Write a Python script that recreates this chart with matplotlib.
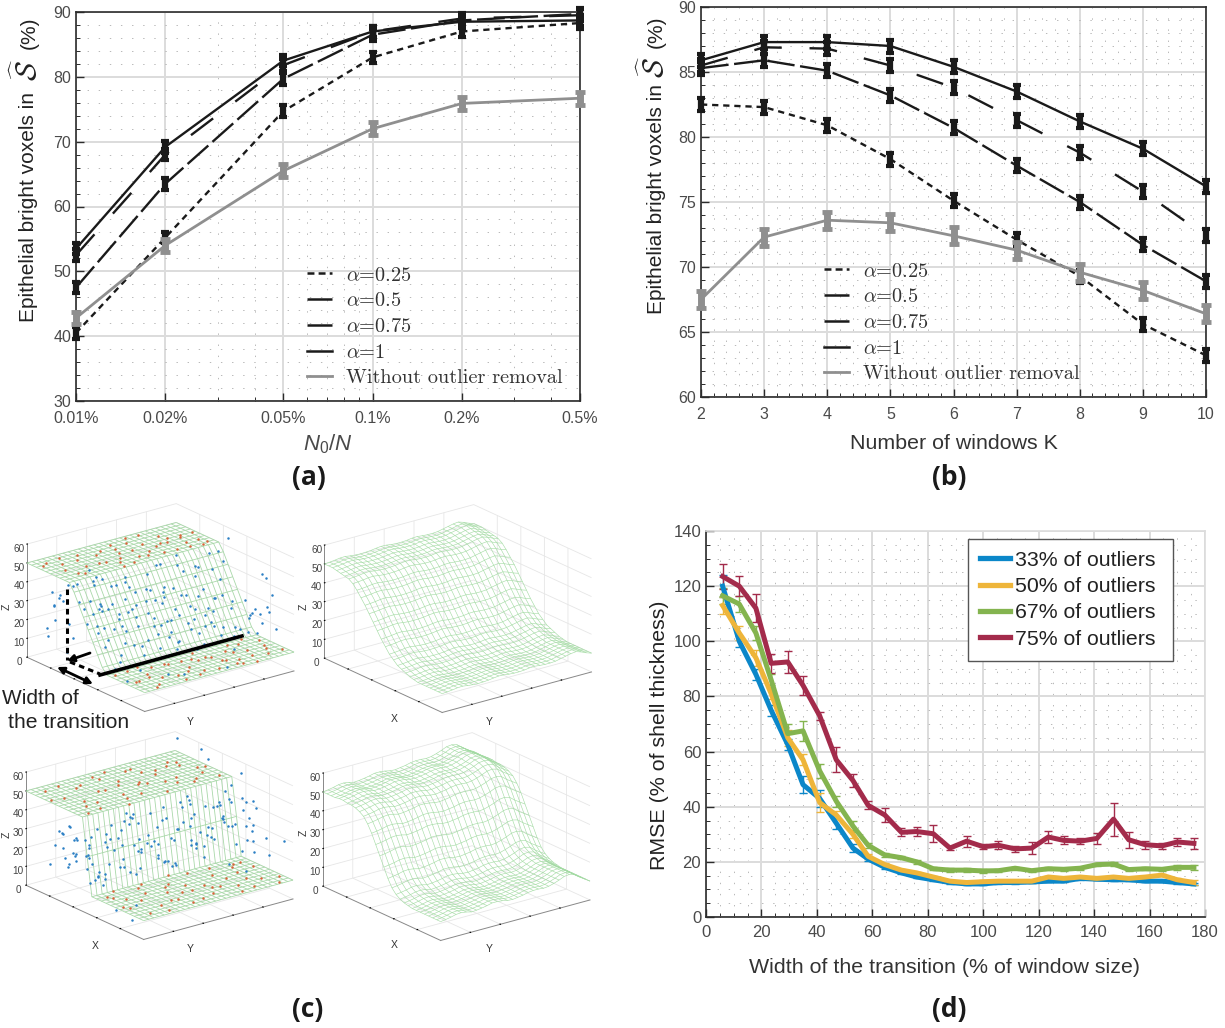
import matplotlib
matplotlib.use("Agg")
import matplotlib.pyplot as plt
import numpy as np
from matplotlib.ticker import FixedLocator, NullFormatter, MultipleLocator

plt.rcParams['font.family'] = ['Liberation Sans', 'DejaVu Sans']
plt.rcParams['lines.scale_dashes'] = False
plt.rcParams['mathtext.fontset'] = 'custom'
plt.rcParams['mathtext.it'] = 'Liberation Sans:italic'
plt.rcParams['mathtext.rm'] = 'Liberation Sans'

W, H = 1225, 1028

# (a)
ratio = [0.01, 0.02, 0.05, 0.1, 0.2, 0.5]
ratio_labels = ['0.01%', '0.02%', '0.05%', '0.1%', '0.2%', '0.5%']
a_025 = [40.5, 55.2, 74.7, 83.0, 87.0, 88.3]
a_050 = [47.5, 63.5, 79.7, 86.5, 88.7, 89.7]
a_075 = [52.5, 68.0, 81.8, 87.0, 89.0, 89.5]
a_100 = [53.5, 69.2, 82.5, 87.0, 88.5, 88.7]
a_none = [42.8, 54.0, 65.5, 72.0, 75.9, 76.7]

# (b)
windows = [2, 3, 4, 5, 6, 7, 8, 9, 10]
b_025 = [82.5, 82.3, 80.9, 78.3, 75.1, 72.1, 69.3, 65.6, 63.2]
b_050 = [85.3, 85.9, 85.1, 83.2, 80.7, 77.8, 75.0, 71.7, 68.9]
b_075 = [85.5, 86.9, 86.8, 85.5, 83.8, 81.3, 78.8, 75.8, 72.4]
b_100 = [85.9, 87.3, 87.3, 87.0, 85.4, 83.5, 81.2, 79.1, 76.2]
b_none = [67.5, 72.3, 73.6, 73.4, 72.4, 71.3, 69.6, 68.2, 66.4]

alpha_labels = [r'$\alpha$=0.25', r'$\alpha$=0.5', r'$\alpha$=0.75', r'$\alpha$=1', 'Without outlier removal']

# (d)
width = [6, 12, 18, 23.5, 29.5, 35, 41, 47, 53, 58.5, 64.5, 70.5, 76, 82, 88, 94, 100, 105.5, 111.5, 117.5,
         123.5, 129, 135, 141, 147, 152.5, 158.5, 164.5, 170, 176]
d_33 = [120, 100, 88, 75, 62.5, 48, 43, 34, 25, 21, 18, 16, 14.5, 13.5, 12.5, 12, 12, 12.5, 12.5, 12.7,
        13, 13, 14, 13.7, 13.5, 13.5, 13, 13, 12.5, 12]
d_50 = [113, 103, 94, 81, 65, 57, 41.5, 37, 30, 22, 19, 17, 16, 14.5, 13, 12.5, 12.8, 13, 13, 13,
        14.5, 14, 14.5, 14, 14.5, 14, 14.5, 15.2, 13.5, 12.5]
d_67 = [116.5, 113.5, 103, 86, 66.5, 67.5, 53, 42, 33, 26, 22.5, 21.5, 20, 17.5, 17, 17, 16.7, 16.8, 17.7, 16.8,
        17.5, 17.3, 17.7, 19, 19.2, 17.2, 17.5, 17.3, 18, 18]
d_75 = [123.5, 120, 112, 92, 92.5, 84, 73, 57, 49.5, 40.5, 37, 30.7, 31, 30.2, 25, 27.5, 25.5, 26, 24.7, 25,
        29, 27.8, 27.5, 28.5, 35.5, 28, 26.2, 25.8, 27.2, 26.7]
e_33 = [4, 2, 2, 2, 2, 3, 3, 2, 1.5, 0.8, 0.6, 0.5, 0.4, 0.4, 0.4, 0.4, 0.4, 0.4, 0.4, 0.4,
        0.4, 0.4, 0.4, 0.4, 0.4, 0.4, 0.4, 0.4, 0.4, 0.5]
e_50 = [3, 2.5, 3, 2, 3, 2, 3.5, 1.5, 1.5, 0.8, 0.6, 0.5, 0.5, 0.5, 0.5, 0.5, 0.5, 0.5, 0.5, 0.5,
        0.5, 0.5, 0.5, 0.5, 0.5, 0.5, 0.5, 0.5, 0.5, 0.8]
e_67 = [3, 3, 2.5, 2, 3.5, 3.5, 2.5, 2, 2, 1, 0.8, 0.6, 0.6, 0.6, 0.6, 0.6, 0.6, 0.6, 0.6, 0.6,
        0.6, 0.6, 0.6, 0.6, 0.8, 0.6, 0.6, 0.6, 0.8, 1]
e_75 = [4.5, 3.7, 5, 3.5, 4, 3.5, 1.5, 4.5, 2.5, 1.5, 2.5, 1.5, 1.5, 3, 0.8, 2, 1, 1.5, 1, 2.2,
        2.3, 1.5, 1, 2, 6, 3, 1.5, 1, 1.5, 2]
outlier_labels = ['33% of outliers ', '50% of outliers ', '67% of outliers ', '75% of outliers ']

# (c) surfaces, z across the transition and ripple along it
ramp_profile = [50, 50, 50, 50, 50, 50, 50, 50, 50, 50, 46, 40.5, 35, 29.5, 24, 18.5, 13, 10, 10, 10, 10, 10, 10, 10, 10, 10]
step_profile = [50, 50, 50, 50, 50, 50, 50, 50, 50, 50, 50, 50, 50, 30, 10, 10, 10, 10, 10, 10, 10, 10, 10, 10, 10, 10]
smooth_wide = [50, 50, 50, 49.5, 49, 48.5, 48, 46.5, 44, 41, 38, 34.5, 31, 27.5, 24, 21, 18, 16, 14, 13, 12, 11, 10.5, 10, 10, 10, 10, 10, 10, 10]
smooth_narrow = [50, 50, 50, 50, 50.5, 50.5, 50, 50, 49.5, 48.5, 47, 44, 40, 35, 30, 25, 20, 16, 13.5, 12, 11, 10.5, 10, 10, 10, 10, 10, 10, 10, 10]
ripple_wide = [0, 0.2, 0.5, 0.9, 1, 0.6, 0.3, 0.2, 0.3, 0.5, 0.9, 1.2, 1.1, 0.7, 0.5, 0.5, 0.7, 1.1, 1.2, 0.9, 0.7, 0.7, 0.9, 1.5, 2.1, 2.7, 3, 2.1, 0.9, 0]
ripple_narrow = [0, 0.4, 0.9, 1.6, 1.8, 1.4, 0.7, 0.9, 1.3, 1.8, 2.5, 2.5, 2.2, 1.6, 1.4, 1.8, 2.2, 2.9, 3.2, 3.2, 2.9, 3.2, 4, 5, 6.2, 6.5, 5.8, 3.6, 1.8, 0]

# (c) points
tl_blue_x = [38, 42, 47, 52, 56, 61, 44, 49, 55, 59, 35, 40, 46, 51, 57, 63, 37, 43, 48, 54, 60, 66, 41, 45, 50, 53, 58, 62, 36, 39,
             44, 47, 52, 56, 64, 68, 42, 49, 55, 61, 33, 38, 46, 50, 57, 65, 40, 45, 51, 59, 12, 18, 25, 8, 30, 22, 15, 28, 20, 10,
             72, 78, 85, 90, 95, 75, 82, 88, 70, 92, 5, 14, 24, 33, 70, 80, 88, 96, 60, 48,
             36, 38, 40, 42, 44, 46, 48, 50, 52, 54, 56, 58, 60, 62, 64, 37, 39, 41, 43, 45, 47, 49, 51, 53, 55, 57, 59, 61, 63, 65,
             36, 40, 44, 48, 52, 56, 60, 64, 38, 42, 46, 50, 54, 58, 62, 66, 35, 41, 47, 53,
             12, 16, 20, 24, 14, 18, 22, 10, 15, 25, 72, 76, 80, 84, 88, 74, 78, 82, 86, 90]
tl_blue_y = [12, 85, 33, 61, 8, 47, 72, 20, 93, 55, 38, 66, 4, 79, 27, 90, 51, 16, 43, 70, 31, 96, 58, 9, 24, 83, 64, 14, 76, 35,
             48, 88, 6, 41, 68, 22, 98, 29, 53, 75, 18, 62, 37, 91, 45, 11, 81, 56, 26, 69, 15, 40, 60, 80, 28, 92, 5, 72, 50, 34,
             10, 44, 84, 24, 64, 95, 30, 52, 75, 88, 45, 20, 8, 96, 2, 99, 12, 58, 3, 97,
             5, 15, 25, 35, 45, 55, 65, 75, 85, 95, 10, 20, 30, 40, 50, 60, 70, 80, 90, 3, 13, 23, 33, 43, 53, 63, 73, 83, 93, 8,
             18, 28, 38, 48, 58, 68, 78, 88, 98, 2, 12, 22, 32, 42, 52, 62, 72, 82, 92, 6,
             4, 9, 3, 12, 7, 14, 5, 10, 2, 8, 92, 86, 97, 90, 95, 99, 88, 93, 85, 96]
tl_blue_z = [38, 30, 32, 24, 20, 18, 30, 25, 22, 14, 42, 34, 30, 20, 17, 15, 44, 36, 28, 26, 12, 12, 28, 34, 26, 22, 18, 16, 40, 46,
             38, 26, 30, 24, 11, 8, 42, 32, 18, 20, 46, 35, 33, 28, 24, 14, 37, 33, 23, 15, 30, 22, 24, 34, 18, 14, 38, 12, 26, 42,
             6, 4, 30, 22, 18, 14, 8, 40, 16, 34, 20, 10, 8, 44, 48, 26, 32, 10, 58, 56,
             48, 46, 44, 42, 39, 36, 33, 31, 28, 25, 23, 20, 17, 14, 12, 47, 45, 43, 40, 38, 35, 32, 29, 27, 24, 21, 18, 16, 13, 11,
             49, 44, 39, 34, 28, 22, 17, 11, 46, 41, 36, 30, 25, 20, 15, 10, 49, 42, 35, 27,
             18, 34, 25, 42, 30, 20, 38, 28, 15, 44, 22, 34, 44, 28, 38, 18, 26, 48, 32, 20]
tl_red_x = [4, 9, 14, 18, 23, 27, 31, 6, 12, 17, 21, 26, 30, 34, 8, 15, 20, 24, 29, 33, 3, 11, 16, 22, 28, 32,
            5, 10, 13, 19, 25, 31, 7, 16, 23, 28, 2, 12, 18, 26, 33, 9, 20, 30,
            70, 74, 78, 83, 87, 92, 97, 68, 72, 76, 81, 85, 90, 95, 71, 75, 79, 84, 88, 93, 98, 73, 80, 86, 91, 96,
            69, 77, 82, 89, 94, 99, 70, 75, 83, 87, 92, 97, 73, 79, 85, 90, 95, 68]
tl_red_y = [18, 42, 66, 88, 30, 54, 76, 8, 24, 48, 70, 94, 15, 38, 60, 82, 10, 34, 58, 92, 72, 50, 98, 22, 40, 84,
            52, 80, 36, 74, 62, 96, 28, 90, 44, 12, 64, 14, 56, 86, 46, 4, 78, 68,
            12, 36, 58, 82, 22, 46, 68, 90, 26, 50, 74, 6, 30, 54, 78, 96, 18, 42, 64, 88, 10, 34, 60, 92, 70, 40,
            56, 72, 94, 38, 14, 76, 4, 44, 16, 62, 98, 30, 84, 52, 8, 80, 66, 20]
tl_red_z = [50] * 44 + [10] * 44

# (c) points
bl_blue_x = [48, 50, 49, 51, 47, 52, 50, 48, 49, 51, 46, 53, 50, 47, 49, 52, 48, 50, 51, 46, 49, 53, 47, 50, 52, 48, 49, 51, 50, 47,
             53, 48, 50, 46, 52, 49, 51, 47, 50, 48, 44, 56, 42, 58, 40, 60, 45, 55, 43, 57, 20, 24, 28, 16, 32, 12, 22, 30, 18, 26,
             72, 78, 85, 90, 95, 75, 82, 88, 70, 92, 5, 14, 24, 33, 70, 80, 88, 96, 60, 8,
             50, 49, 51, 47, 53, 48, 52, 46, 54, 50, 49, 51, 47, 53, 48, 52, 46, 54, 50, 49, 51, 47, 53, 48, 52, 46, 54, 50, 49, 51,
             47, 53, 48, 52, 46, 54, 50, 49, 51, 47, 53, 48, 52, 46, 54, 50, 49, 51, 47, 53,
             26, 30, 34, 38, 28, 32, 36, 24, 40, 33, 62, 66, 70, 74, 64, 68, 72, 60, 76, 65]
bl_blue_y = [6, 16, 26, 36, 46, 56, 66, 76, 86, 96, 10, 20, 30, 40, 50, 60, 70, 80, 90, 4, 14, 24, 34, 44, 54, 64, 74, 84, 94, 12,
             22, 32, 42, 52, 62, 72, 82, 92, 2, 28, 38, 48, 58, 68, 78, 88, 18, 8, 98, 3, 4, 7, 10, 12, 3, 15, 5, 8, 2, 13,
             95, 90, 85, 92, 98, 88, 96, 80, 99, 75, 40, 30, 98, 96, 5, 8, 4, 60, 97, 95,
             3, 9, 13, 19, 23, 29, 33, 39, 43, 49, 53, 59, 63, 69, 73, 79, 83, 89, 93, 99, 8, 17, 27, 37, 47, 57, 67, 77, 87, 97,
             5, 11, 21, 31, 41, 51, 61, 71, 81, 91, 15, 25, 35, 45, 55, 65, 75, 85, 95, 1,
             4, 9, 3, 12, 7, 14, 5, 10, 2, 8, 92, 86, 97, 90, 95, 99, 88, 93, 85, 96]
bl_blue_z = [38, 22, 30, 16, 42, 28, 34, 20, 26, 40, 14, 36, 44, 24, 18, 32, 46, 12, 38, 28, 34, 20, 42, 26, 16, 30, 36, 22, 44, 18,
             40, 14, 32, 24, 46, 20, 28, 38, 30, 42, 26, 18, 34, 22, 40, 30, 36, 14, 28, 20, 26, 20, 30, 22, 18, 28, 34, 24, 16, 30,
             24, 32, 38, 22, 30, 34, 28, 44, 40, 18, 4, 6, 58, 56, 6, 3, 14, 26, 56, 60,
             28, 42, 18, 34, 24, 46, 14, 38, 30, 20, 44, 26, 12, 36, 22, 40, 16, 32, 28, 46, 18, 30, 42, 24, 36, 14, 44, 26, 20, 38,
             34, 16, 28, 46, 22, 40, 12, 30, 24, 36, 44, 18, 32, 26, 14, 42, 20, 38, 28, 16,
             34, 22, 40, 28, 18, 30, 26, 36, 24, 32, 20, 32, 44, 26, 38, 16, 48, 30, 22, 42]
bl_red_x = [4, 9, 14, 18, 23, 27, 31, 36, 40, 44, 6, 12, 17, 21, 26, 30, 34, 38, 42, 8, 15, 20, 24, 29, 33, 37,
            3, 10, 16, 22, 28, 35, 41, 45, 7, 13, 19, 25, 32, 39, 5, 11, 43, 47,
            56, 60, 65, 70, 74, 78, 83, 87, 92, 97, 58, 62, 68, 72, 76, 81, 85, 90, 95, 64, 71, 75, 79, 84, 88, 93,
            55, 59, 63, 67, 73, 77, 82, 86, 91, 96, 57, 61, 66, 69, 80, 89, 94, 98]
bl_red_y = [18, 42, 66, 88, 30, 54, 76, 12, 36, 60, 8, 24, 48, 70, 94, 15, 38, 84, 96, 60, 82, 10, 34, 58, 92, 72,
            50, 28, 74, 44, 98, 20, 80, 6, 64, 90, 2, 56, 68, 46, 40, 86, 16, 32,
            14, 28, 44, 12, 36, 58, 82, 22, 46, 68, 62, 90, 26, 50, 74, 6, 30, 54, 78, 8, 96, 18, 42, 64, 88, 10,
            52, 76, 94, 40, 84, 4, 60, 34, 98, 20, 32, 6, 86, 70, 48, 72, 38, 92]
bl_red_z = [50] * 44 + [10] * 44

# z ticks of panel c
z_ticks = [0, 10, 20, 30, 40, 50, 60]

dark = '#2b2b2b'
label_gray = '#4a4a4a'
grid_major = '#dcdcdc'
grid_minor = '#adadad'

fig = plt.figure(figsize=(W / 100, H / 100), dpi=100, facecolor='white')


def axes_px(left, top, right, bottom, **kw):
    return fig.add_axes([left / W, 1 - bottom / H, (right - left) / W, (bottom - top) / H], **kw)


def style_lines(ax):
    ax.grid(True, which='major', color=grid_major, linewidth=1.4, zorder=0)
    ax.grid(True, which='minor', color=grid_minor, linewidth=0.6, linestyle=(0, (1, 7)), zorder=0)
    ax.tick_params(which='major', direction='in', length=6, width=1, color=dark, labelcolor=label_gray, labelsize=11.5)
    ax.tick_params(which='minor', direction='in', length=3, width=0.7, color=dark)
    ax.set_axisbelow(True)
    for sp in ax.spines.values():
        sp.set_color(dark)
        sp.set_linewidth(1.2)


def plot_alpha(ax, x, series, err, gray_err):
    styles = [(0, (4.5, 3.5)), (0, (20, 4)), (0, (20, 20)), '-']
    for y, ls in zip(series[:4], styles):
        ax.errorbar(x, y, yerr=err, color='#1a1a1a', linewidth=1.7, linestyle=ls, elinewidth=4.5,
                    capsize=3, capthick=3, clip_on=False, zorder=3)
    ax.errorbar(x, series[4], yerr=gray_err, color='#8f8f8f', linewidth=2.0, elinewidth=5,
                capsize=3.3, capthick=3.5, clip_on=False, zorder=4)


def alpha_legend(ax, anchor):
    handles = [plt.Line2D([], [], color='#1a1a1a', lw=1.8, ls=ls) for ls in
               [(0, (5, 3)), (0, (20, 4)), (0, (20, 20)), '-']]
    handles.append(plt.Line2D([], [], color='#8f8f8f', lw=2.0))
    leg = ax.legend(handles, alpha_labels, loc='lower left', bbox_to_anchor=anchor, frameon=False,
                    prop={'family': 'cmr10', 'size': 14.6}, handlelength=1.25, handletextpad=0.7,
                    labelspacing=0.37, borderpad=0, borderaxespad=0, facecolor='none')
    for t in leg.get_texts():
        t.set_math_fontfamily('cm')
        t.set_color('#333333')


# panel a
ax = axes_px(76, 12, 580, 401)
ax.set_xscale('log')
plot_alpha(ax, ratio, [a_025, a_050, a_075, a_100, a_none], 0.9, 1.0)
ax.set_xlim(0.01, 0.5)
ax.set_ylim(30, 90)
ax.set_xticks(ratio)
ax.set_xticklabels(ratio_labels)
ax.xaxis.set_minor_locator(FixedLocator([0.03, 0.04, 0.06, 0.07, 0.08, 0.09, 0.3, 0.4]))
ax.xaxis.set_minor_formatter(NullFormatter())
ax.yaxis.set_minor_locator(MultipleLocator(2))
style_lines(ax)
ax.tick_params(axis='x', pad=7)
ax.set_xlabel(r'$\mathit{N_0/N}$', fontsize=16, color=label_gray, labelpad=5)
alpha_legend(ax, (0.458, 0.035))

# panel b
ax = axes_px(701, 7, 1206, 397)
plot_alpha(ax, windows, [b_025, b_050, b_075, b_100, b_none], 0.5, 0.65)
ax.set_xlim(2, 10)
ax.set_ylim(60, 90)
ax.set_xticks(windows)
ax.xaxis.set_minor_locator(MultipleLocator(0.2))
ax.yaxis.set_minor_locator(MultipleLocator(1))
ax.xaxis.set_minor_formatter(NullFormatter())
style_lines(ax)
ax.tick_params(axis='x', pad=7)
ax.set_xlabel('Number of windows K', fontsize=15.4, color='#333333', labelpad=9)
alpha_legend(ax, (0.243, 0.035))

# panel d
ax = axes_px(706, 531, 1205, 917)
colors = ['#0b87c9', '#eeb53a', '#84b44f', '#a32b4b']
for y, e, c in zip([d_33, d_50, d_67, d_75], [e_33, e_50, e_67, e_75], colors):
    ax.errorbar(width, y, yerr=e, color=c, linewidth=3.6, elinewidth=1, capsize=3, capthick=1, zorder=3)
ax.set_xlim(0, 180)
ax.set_ylim(0, 140)
ax.set_xticks(np.arange(0, 181, 20))
ax.set_yticks(np.arange(0, 141, 20))
ax.xaxis.set_minor_locator(MultipleLocator(5))
ax.yaxis.set_minor_locator(MultipleLocator(5))
ax.xaxis.set_minor_formatter(NullFormatter())
style_lines(ax)
ax.spines['top'].set_color('#dcdcdc')
ax.spines['right'].set_color('#dcdcdc')
ax.tick_params(axis='both', labelsize=12)
ax.tick_params(axis='x', pad=6)
ax.set_xlabel('Width of the transition (% of window size)', fontsize=15.4, color='#333333', labelpad=13, x=0.478)
ax.set_ylabel('RMSE (% of shell thickness)', fontsize=15.4, color='#222222', labelpad=3, y=0.472)
handles = [plt.Line2D([], [], color=c, lw=3.8) for c in colors]
leg = ax.legend(handles, outlier_labels, loc='upper right', bbox_to_anchor=(0.9359, 0.9795), fancybox=False,
                framealpha=1, edgecolor='#555555', fontsize=15.3, handlelength=1.4, handletextpad=0.25,
                labelspacing=0.35, borderpad=0.55, borderaxespad=0)
leg.get_frame().set_linewidth(1.0)
for t in leg.get_texts():
    t.set_color('#222222')


# panel c
def surface_panel(cx, cy, profile, ripple, mesh_color, mesh_lw, blue=None, red=None):
    size = 330
    ax3 = fig.add_axes([(cx - size / 2) / W, 1 - (cy + size / 2) / H, size / W, size / H],
                       projection='3d', computed_zorder=False)
    ax3.patch.set_alpha(0)
    ax3.set_proj_type('ortho')
    ax3.view_init(elev=20.7, azim=-37.5)
    ax3.set_box_aspect((184, 179, 115), zoom=0.87)
    profile = np.array(profile, dtype=float)
    ripple = np.array(ripple, dtype=float)
    xs = np.linspace(0, 100, len(profile))
    ys = np.linspace(0, 100, len(ripple))
    X, Y = np.meshgrid(xs, ys, indexing='ij')
    Z = np.add.outer(profile, ripple)
    ax3.plot_wireframe(X, Y, Z, rstride=1, cstride=1, color=mesh_color, linewidth=mesh_lw, zorder=2)
    if blue is not None:
        ax3.scatter(*blue, s=3.2, color='#2b7fc4', linewidths=0, depthshade=False, zorder=3)
        ax3.scatter(*red, s=3.2, color='#d9633a', linewidths=0, depthshade=False, zorder=3)
    ax3.set_xlim(0, 100)
    ax3.set_ylim(0, 100)
    ax3.set_zlim(0, 60)
    ax3.set_xticks([20, 40, 60, 80])
    ax3.set_yticks([20, 40, 60, 80])
    ax3.set_zticks(z_ticks)
    ax3.set_xticklabels([])
    ax3.set_yticklabels([])
    ax3.tick_params(axis='z', labelsize=7.2, labelcolor='#444444', pad=-4.5)
    for a in (ax3.xaxis, ax3.yaxis, ax3.zaxis):
        a.set_pane_color((1, 1, 1, 0))
        a.line.set_color('#888888')
        a.line.set_linewidth(0.7)
        a._axinfo['grid']['color'] = '#e6e6e6'
        a._axinfo['grid']['linewidth'] = 0.6
        a._axinfo['tick']['color'] = '#888888'
        a._axinfo['tick']['inward_factor'] = 0.0
        a._axinfo['tick']['outward_factor'] = 0.04
    ax3.zaxis.set_ticks_position('lower')
    return ax3


surface_panel(156, 612, ramp_profile, [0] * 30, '#a9d8a9', 0.6, (tl_blue_x, tl_blue_y, tl_blue_z), (tl_red_x, tl_red_y, tl_red_z))
surface_panel(453.5, 613, smooth_wide, ripple_wide, '#a3dba3', 0.42)
surface_panel(155, 840, step_profile, [0] * 30, '#a9d8a9', 0.6, (bl_blue_x, bl_blue_y, bl_blue_z), (bl_red_x, bl_red_y, bl_red_z))
surface_panel(452, 841, smooth_narrow, ripple_narrow, '#a3dba3', 0.42)

# overlay in pixels for annotations and panel letters
ov = fig.add_axes([0, 0, 1, 1], zorder=10)
ov.set_xlim(0, W)
ov.set_ylim(H, 0)
ov.axis('off')
ov.patch.set_alpha(0)
for s, x, y in [('(a)', 309, 478), ('(b)', 949, 478), ('(c)', 308, 1010), ('(d)', 949, 1010)]:
    ov.text(x, y, s, fontsize=19, fontweight='bold', family='Open Sans', ha='center', va='center', color='#1a1a1a')
for s, x, y in [('Y', 190, 722), ('X', 394, 719), ('Y', 489, 722), ('X', 95, 946), ('Y', 190, 949), ('X', 394, 945), ('Y', 489, 949)]:
    ov.text(x, y, s, fontsize=7.5, ha='center', va='center', color='#333333')
for x, y in [(7, 607), (304, 607), (7, 835), (304, 833)]:
    ov.text(x, y, 'Z', fontsize=7.5, rotation=90, ha='center', va='center', color='#333333')
ov.text(2, 698, 'Width of', fontsize=15, va='center', color='#222222')
ov.text(8, 723, 'the transition', fontsize=15.2, va='center', color='#222222')
ov.plot([67, 67], [589, 660], color='black', lw=2.2, ls=(0, (4, 3)))
ov.plot([70, 100], [662, 674], color='black', lw=2.2, ls=(0, (4, 3)))
ov.plot([100, 242], [675, 636], color='black', lw=2.6)
ov.annotate('', xy=(67, 661), xytext=(90, 653), arrowprops=dict(arrowstyle='-|>', color='black', lw=2, shrinkA=0, shrinkB=0))
ov.annotate('', xy=(57, 667), xytext=(93, 684), arrowprops=dict(arrowstyle='<|-|>', color='black', lw=2, shrinkA=0, shrinkB=0))

# y labels of a and b, the S is larger than the words
for x, bottom, s_y, pct_y in [(29, 322, 70, 33), (656, 314, 67, 32)]:
    ov.text(x, bottom, 'Epithelial bright voxels in', fontsize=15, rotation=90, ha='center', va='bottom', color='#222222')
    ov.text(x - 2, s_y, r'$\widehat{\mathcal{S}}$', fontsize=21, rotation=90, ha='center', va='center', color='#222222', math_fontfamily='cm')
    ov.text(x, pct_y, '(%)', fontsize=15, rotation=90, ha='center', va='center', color='#222222')

fig.savefig('out.png', dpi=100)
